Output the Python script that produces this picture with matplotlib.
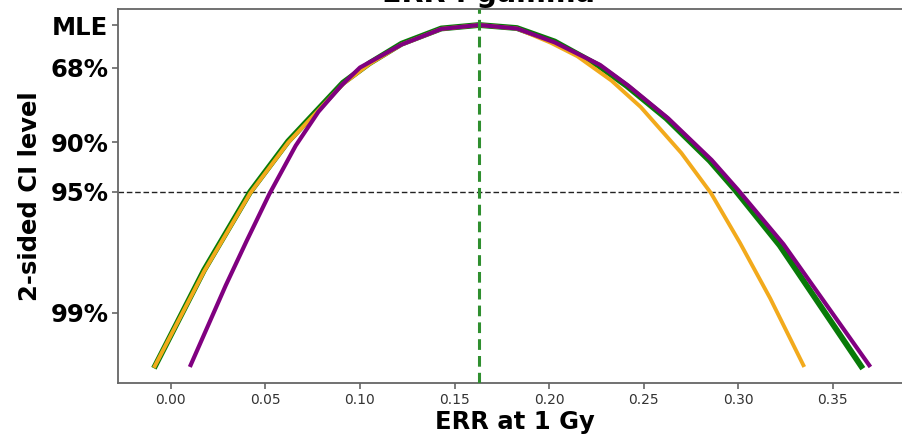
import matplotlib
matplotlib.use("Agg")
import matplotlib.pyplot as plt
import numpy as np


# deviance levels for the CI ticks (chi2, 1 df)
CI_LABELS = ["MLE", "68%", "90%", "95%", "99%"]
CI_LEVELS = [0.0, 0.989, 2.706, 3.841, 6.635]

ERR_MLE = 0.163

# profile curves: ERR at 1 Gy vs deviance
GREEN_ERR = [-0.009, 0.0175, 0.042, 0.062, 0.091, 0.105, 0.122, 0.143, 0.163,
             0.183, 0.203, 0.226, 0.241, 0.262, 0.285, 0.298, 0.322, 0.366]
GREEN_DEV = [7.91, 5.65, 3.84, 2.68, 1.33, 0.88, 0.43, 0.08, 0.0,
             0.07, 0.38, 0.93, 1.40, 2.15, 3.13, 3.78, 5.08, 7.92]

ORANGE_ERR = [-0.009, 0.0175, 0.042, 0.062, 0.091, 0.105, 0.122, 0.143, 0.163,
              0.183, 0.201, 0.215, 0.233, 0.2485, 0.270, 0.2856, 0.301, 0.317, 0.335]
ORANGE_DEV = [7.90, 5.68, 3.87, 2.71, 1.36, 0.90, 0.45, 0.09, 0.0,
              0.08, 0.41, 0.72, 1.28, 1.89, 2.95, 3.87, 5.02, 6.30, 7.88]

PURPLE_ERR = [0.010, 0.029, 0.040, 0.052, 0.066, 0.078, 0.090, 0.100, 0.122, 0.143,
              0.163, 0.183, 0.203, 0.227, 0.242, 0.263, 0.286, 0.300, 0.324, 0.370]
PURPLE_DEV = [7.88, 6.00, 4.98, 3.90, 2.78, 2.00, 1.40, 0.98, 0.45, 0.09,
              0.0, 0.08, 0.40, 0.92, 1.40, 2.15, 3.11, 3.80, 5.05, 7.88]

XTICKS = [0.00, 0.05, 0.10, 0.15, 0.20, 0.25, 0.30, 0.35]


def main() -> None:
    fig = plt.figure(figsize=(9.02, 4.41), dpi=100)
    W, H = 902, 441
    left, right, top, bottom = 118, 912, 9, 383
    ax = fig.add_axes([left / W, 1 - bottom / H, (right - left) / W, (bottom - top) / H])

    ax.plot(GREEN_ERR, GREEN_DEV, color="#087a08", lw=4.2, solid_capstyle="butt", zorder=3)
    ax.plot(ORANGE_ERR, ORANGE_DEV, color="#f2aa1c", lw=2.8, solid_capstyle="butt", zorder=4)
    ax.plot(PURPLE_ERR, PURPLE_DEV, color="#800080", lw=3.0, solid_capstyle="butt", zorder=5)

    ax.axvline(ERR_MLE, color="#2f8f2f", lw=2.2, linestyle=(0, (3.5, 2)), zorder=6)
    ax.axhline(CI_LEVELS[3], color="#222222", lw=1.0, linestyle=(0, (4, 2)), zorder=2)

    ax.set_xlim(-0.028, 0.392)
    ax.set_ylim(8.25, -0.369)

    ax.set_yticks(CI_LEVELS)
    ax.set_yticklabels(CI_LABELS, fontsize=17.5, fontweight="bold")
    ax.set_xticks(XTICKS)
    ax.set_xticklabels([f"{t:.2f}" for t in XTICKS], fontsize=10, color="#333333")

    ax.set_xlabel("ERR at 1 Gy", fontsize=17.5, fontweight="bold", labelpad=2)
    ax.set_ylabel("2-sided CI level", fontsize=17.5, fontweight="bold", labelpad=6)

    for spine in ax.spines.values():
        spine.set_color("#666666")
        spine.set_linewidth(1.3)
    ax.tick_params(axis="both", color="#666666", width=1.2, length=4)
    ax.tick_params(axis="y", pad=3)

    # title sits mostly above the top edge, as in the cropped original
    fig.text(488 / W, 1 - 2 / H, "ERR : gamma", fontsize=20.5, fontweight="bold",
             ha="center", va="baseline")

    fig.savefig("out.png", dpi=100)
    plt.close(fig)


if __name__ == "__main__":
    main()
